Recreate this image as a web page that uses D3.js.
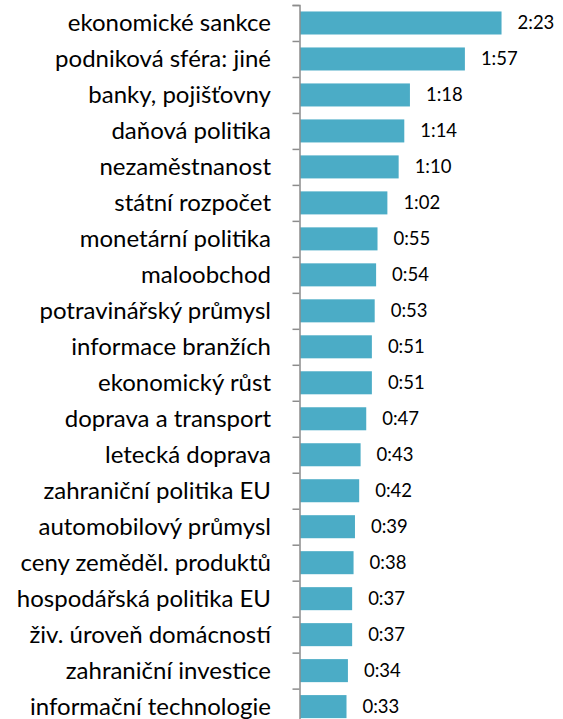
<!DOCTYPE html>
<html>
<head>
<meta charset="utf-8">
<script src="https://cdn.jsdelivr.net/npm/d3@7"></script>
<style>
    body { margin: 0; background: #fff; }
</style>
</head>
<body>
<div id="chart"></div>
<script>
var categories = ["ekonomické sankce", "podniková sféra: jiné", "banky, pojišťovny", "daňová politika",
    "nezaměstnanost", "státní rozpočet", "monetární politika", "maloobchod", "potravinářský průmysl",
    "informace branžích", "ekonomický růst", "doprava a transport", "letecká doprava",
    "zahraniční politika EU", "automobilový průmysl", "ceny zeměděl. produktů",
    "hospodářská politika EU", "živ. úroveň domácností", "zahraniční investice", "informační technologie"];

// time in seconds
var seconds = [143, 117, 78, 74, 70, 62, 55, 54, 53, 51, 51, 47, 43, 42, 39, 38, 37, 37, 34, 33];

(function () {
    var width = 563,
        height = 719;

    var svg = d3.select("#chart")
        .append("svg")
        .attr("width", width)
        .attr("height", height)

    var data = categories.map(function (c, i) {
        return { name: c, value: seconds[i] }
    })

    var x = d3.scaleLinear().domain([0, 150]).range([300, 511.4])

    var y = d3.scaleBand()
        .domain(categories)
        .range([5, 724.6])
        .paddingInner(0.36)
        .paddingOuter(0.18)

    // tick positions sit between categories
    var yEdge = d3.scaleLinear().domain([0, categories.length]).range([5, 724.6])

    function fmt(s) {
        var m = Math.floor(s / 60), r = s % 60
        return m + ":" + (r < 10 ? "0" : "") + r
    }

    svg.selectAll(".bar")
        .data(data)
        .enter().append("rect")
        .attr("class", "bar")
        .attr("x", x(0))
        .attr("y", function (d) { return y(d.name) })
        .attr("width", function (d) { return x(d.value) - x(0) })
        .attr("height", y.bandwidth())
        .attr("fill", "#4BACC6")

    var axis = svg.append("g")
        .attr("transform", "translate(299.5,0)")
        .call(d3.axisLeft(yEdge).tickValues(d3.range(categories.length + 1)).tickSize(7).tickFormat(""))
    axis.selectAll("path, line").attr("stroke", "#8c8c8c").attr("stroke-width", 1.5)

    svg.selectAll(".cat")
        .data(data)
        .enter().append("text")
        .attr("class", "cat")
        .attr("x", 271)
        .attr("y", function (d) { return y(d.name) + y.bandwidth() / 2 })
        .attr("dy", "0.35em")
        .attr("text-anchor", "end")
        .style("font-family", "Lato, sans-serif")
        .style("font-size", "24px")
        .text(function (d) { return d.name })

    svg.selectAll(".val")
        .data(data)
        .enter().append("text")
        .attr("class", "val")
        .attr("x", function (d) { return x(d.value) + 16 })
        .attr("y", function (d) { return y(d.name) + y.bandwidth() / 2 })
        .attr("dy", "0.35em")
        .style("font-family", "Lato, sans-serif")
        .style("font-size", "18.5px")
        .text(function (d) { return fmt(d.value) })
})();
</script>
</body>
</html>
